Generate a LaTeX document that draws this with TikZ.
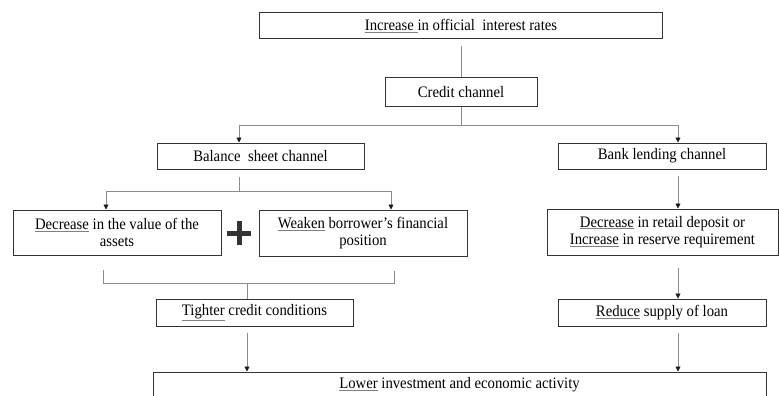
\documentclass[tikz,border=0pt]{standalone}
\usepackage{fontspec}
\setmainfont{Liberation Serif}[FakeStretch=0.92]
\usepackage{tikz}
\usetikzlibrary{arrows.meta}
\usepackage{xcolor}
\newcommand{\ulword}[1]{\textcolor{black!50}{\underline{\textcolor{black}{#1}}}}

\begin{document}
\begin{tikzpicture}[x=1pt,y=-1pt,
    box/.style={draw=black!80,line width=1pt,inner sep=0pt,align=center,
      text=black,font=\fontsize{16}{17.5}\selectfont},
    conn/.style={draw=black!45,line width=0.8pt},
    arr/.style={conn,-{Triangle[length=5pt,width=5pt,color=black!90]}}]
  % Frame
  \useasboundingbox (0,0) rectangle (779,396);
  \clip (0,0) rectangle (779,396);
  % Channel boxes
  \node[box,minimum width=403,minimum height=26] (rates) at (461,26) {\ulword{Increase\ }in official\ \ interest rates};
  \node[box,minimum width=152,minimum height=28] (credit) at (461,92) {Credit channel};
  \node[box,minimum width=207,minimum height=26] (balance) at (260.5,156) {Balance\ \ sheet channel};
  \node[box,minimum width=208,minimum height=26] (banklend) at (662,156) {Bank lending channel};
  % Effects
  \node[box,minimum width=208,minimum height=45] (assets) at (117,232.5) {\ulword{Decrease} in the value of the\\assets};
  \node[box,minimum width=208,minimum height=46] (weaken) at (363,233) {\ulword{Weaken} borrower's\ financial\\position};
  \node[box,minimum width=231,minimum height=46] (retail) at (662.5,232) {\ulword{Decrease} in retail deposit or\\\ulword{Increase} in reserve requirement};
  \node[box,minimum width=197,minimum height=27] (tighter) at (254.5,312.5) {\ulword{Tighter} credit conditions};
  \node[box,minimum width=208,minimum height=27] (reduce) at (662,312.5) {\ulword{Reduce} supply of loan};
  \node[box,minimum width=613,minimum height=26] (lower) at (459.5,385) {\ulword{Lower} investment and economic activity};
  % Plus sign
  \draw[line width=5pt,black!80] (227,233) -- (251,233) (239,221) -- (239,245);
  % Junctions
  \coordinate (forkL) at (239,125);
  \coordinate (forkR) at (678,125);
  \coordinate (splitM) at (239,191);
  \coordinate (splitL) at (106,191);
  \coordinate (splitR) at (391,191);
  \coordinate (joinL) at (103,283);
  \coordinate (joinR) at (394,283);
  \coordinate (joinM) at (247,283);
  % Credit channel split
  \draw[conn,shorten <=7pt] (rates.south) -- (credit.north);
  \draw[conn] (credit.south) -- (credit.south |- forkL);
  \draw[conn] (forkL) -- (forkR);
  \draw[arr] (forkL) -- (forkL |- balance.north);
  \draw[arr] (forkR) -- (forkR |- banklend.north);
  % Balance sheet side
  \draw[conn,shorten <=7pt] (splitM |- balance.south) -- (splitM);
  \draw[conn] (splitL) -- (splitR);
  \draw[arr] (splitL) -- (splitL |- assets.north);
  \draw[arr] (splitR) -- (splitR |- weaken.north);
  \draw[conn,shorten <=14pt,shorten >=14pt] (joinL |- assets.south) -- (joinL) -- (joinR) -- (joinR |- weaken.south);
  \draw[conn] (joinM) -- (joinM |- tighter.north);
  \draw[arr,shorten <=6pt] (joinM |- tighter.south) -- (joinM |- lower.north);
  % Bank lending side
  \draw[arr,shorten <=6pt] (forkR |- banklend.south) -- (forkR |- retail.north);
  \draw[arr,shorten <=12pt] (forkR |- retail.south) -- (forkR |- reduce.north);
  \draw[arr,shorten <=6pt] (forkR |- reduce.south) -- (forkR |- lower.north);
\end{tikzpicture}
\end{document}
